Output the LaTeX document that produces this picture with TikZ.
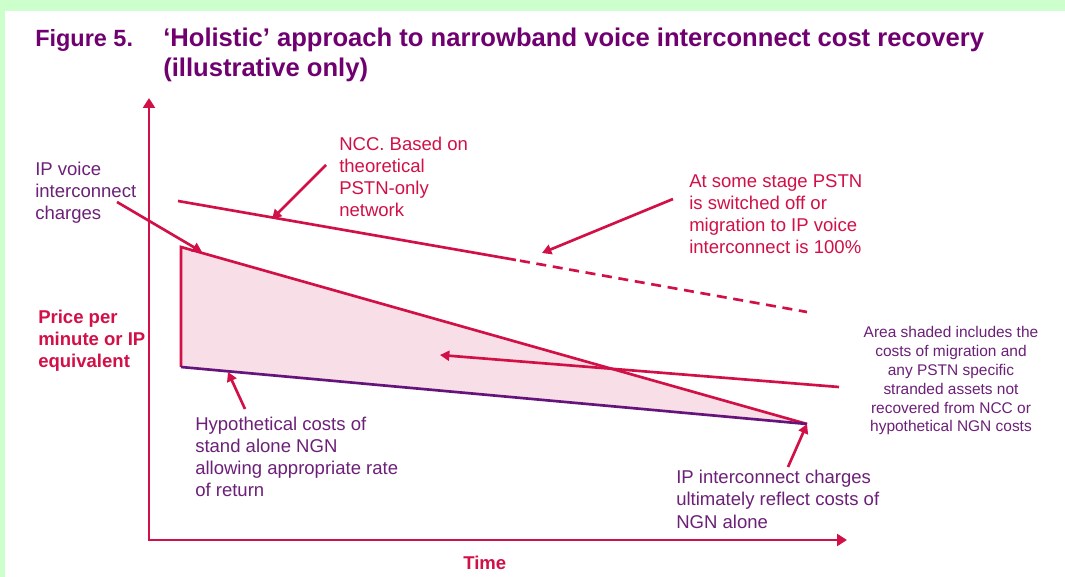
\documentclass[tikz,border=0pt]{standalone}
\usepackage{fontspec}
\setmainfont{Liberation Sans}
\usepackage{tikz}
\usetikzlibrary{arrows.meta}

\definecolor{titlepurple}{RGB}{112,0,112}
\definecolor{textpurple}{RGB}{108,32,120}
\definecolor{linepurple}{RGB}{100,20,122}
\definecolor{nccred}{RGB}{210,16,72}
\definecolor{areapink}{RGB}{248,222,230}
\definecolor{framegreen}{RGB}{204,255,204}

\begin{document}
\begin{tikzpicture}[x=0.75pt, y=-0.75pt,
    redline/.style={draw=nccred, line width=2pt},
    callout/.style={redline, -{Triangle[length=7pt,width=7.5pt]}},
    note/.style={anchor=base west, inner sep=0pt, align=left,
      font=\fontsize{13.9}{16.7}\selectfont},
    rednote/.style={note, text=nccred},
    purplenote/.style={note, text=textpurple}]

    % Frame
    \fill[framegreen] (0,0) rectangle (1065,577);
    \fill[white] (5,11) rectangle (1065,577);
    \useasboundingbox (0,0) rectangle (1065,577);

    % Title (multi-line nodes sit on their last baseline)
    \node[anchor=base west, inner sep=0pt, text=titlepurple,
      font=\fontsize{17.6}{22.5}\selectfont\bfseries] (fig) at (35,47) {Figure 5.};
    \node[anchor=base west, inner sep=0pt, align=left, text=titlepurple,
      font=\fontsize{19.2}{22.5}\selectfont\bfseries] (title) at (163,77)
      {‘Holistic’ approach to narrowband voice interconnect cost recovery\\(illustrative only)};

    % Points of the chart
    \coordinate (origin) at (149,540);
    \coordinate (ytop) at (149,98);
    \coordinate (xend) at (847,540);
    \coordinate (nccstart) at (178,201);
    \coordinate (nccswitch) at (516,260);
    \coordinate (nccend) at (807,312);
    \coordinate (iptop) at (181,247);
    \coordinate (ngnleft) at (181,367);
    \coordinate (ngnend) at (807,424);

    % Shaded area
    \fill[areapink] (iptop) -- (ngnend) -- (ngnleft) -- cycle;
    \draw[redline, line join=miter] (ngnend) -- (iptop) -- (ngnleft);
    \draw[draw=linepurple, line width=2pt] (ngnleft) -- (ngnend);

    % NCC line, dashed once PSTN is off
    \draw[redline] (nccstart) -- (nccswitch);
    \draw[redline, dash pattern=on 7.5pt off 5pt, dash phase=-3pt] (nccswitch) -- (nccend);

    % Axes
    \draw[redline, line width=2pt,
      {Triangle[length=7.5pt,width=9pt]}-{Triangle[length=7.5pt,width=9pt]}]
      (ytop) -- (origin) -- (xend);
    \node[anchor=base west, inner sep=0pt, text=nccred,
      font=\fontsize{13.9}{16.7}\selectfont\bfseries] (time) at (463,570) {Time};
    \node[anchor=base west, inner sep=0pt, align=left, text=nccred,
      font=\fontsize{13.9}{16.5}\selectfont\bfseries] (price) at (38,368)
      {Price per\\minute or IP\\equivalent};

    % Labels
    \node[purplenote] (ipvoice) at (35,220) {IP voice\\interconnect\\charges};
    \node[rednote] (ncc) at (339,217) {NCC. Based on\\theoretical\\PSTN-only\\network};
    \node[rednote] (stage) at (689,254)
      {At some stage PSTN\\is switched off or\\migration to IP voice\\interconnect is 100\%};
    \node[purplenote] (hypo) at (195,497)
      {Hypothetical costs of\\stand alone NGN\\allowing appropriate rate\\of return};
    \node[purplenote] (ipngn) at (676,528)
      {IP interconnect charges\\ultimately reflect costs of\\NGN alone};
    \node[anchor=base, inner sep=0pt, align=center, text=textpurple,
      font=\fontsize{11.6}{14.1}\selectfont] (area) at (951,432)
      {Area shaded includes the\\costs of migration and\\any PSTN specific\\stranded assets not\\recovered from NCC or\\hypothetical NGN costs};

    % Callout arrows
    \coordinate (ipvoicefrom) at (117,202);
    \coordinate (nccfrom) at (326,165);
    \coordinate (nccto) at (272,219);
    \coordinate (stagefrom) at (673,199);
    \coordinate (stageto) at (542,253);
    \coordinate (areafrom) at (839,387);
    \coordinate (areato) at (440,355);
    \coordinate (hypofrom) at (245,409);
    \coordinate (hypoto) at (228,372);
    \coordinate (ipngnfrom) at (788,467);
    \draw[callout] (ipvoicefrom) -- (202,252);
    \draw[callout] (nccfrom) -- (nccto);
    \draw[callout] (stagefrom) -- (stageto);
    \draw[callout] (areafrom) -- (areato);
    \draw[callout] (hypofrom) -- (hypoto);
    \draw[callout] (ipngnfrom) -- (ngnend);

\end{tikzpicture}
\end{document}
